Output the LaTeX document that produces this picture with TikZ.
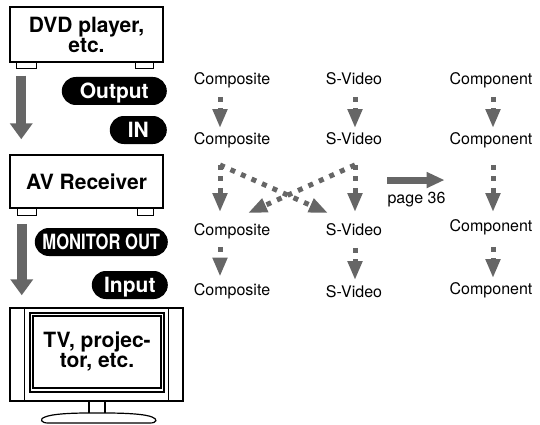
\documentclass[tikz,border=0pt]{standalone}
\usepackage{graphicx}
\usepackage{fontspec}
\setmainfont{TeX Gyre Heros}
\usetikzlibrary{arrows.meta,calc}
\definecolor{arrowgray}{RGB}{102,102,102}
\tikzset{
  unit/.style={draw,line width=1.5pt,fill=white,inner sep=0pt},
  boxtext/.style={font=\bfseries\fontsize{21}{20}\selectfont,align=center},
  foot/.style={draw,line width=1.3pt,fill=white},
  pill/.style={fill=black,text=white,rounded corners=14pt,minimum height=28pt,inner sep=0pt,
    text height=15pt,text depth=0pt,font=\bfseries\fontsize{21}{21}\selectfont,anchor=east},
  sig/.style={font=\fontsize{16}{19}\selectfont,inner sep=0pt,text height=11.5pt,text depth=0pt},
  bigarrow/.style={arrowgray,line width=10pt,-{Triangle[width=22pt,length=16pt]}},
  dotarrow/.style={arrowgray,line width=5pt,dash pattern=on 5pt off 6.5pt,-{Triangle[width=14pt,length=19pt]}},
  pagearrow/.style={arrowgray,line width=7pt,-{Triangle[width=15pt,length=18pt]}}
}
\begin{document}
\begin{tikzpicture}[x=1pt,y=-1pt]
\useasboundingbox (0,0) rectangle (540,425);
% units on the left
\node[unit,boxtext,minimum width=153pt,minimum height=55pt] (dvd) at (86.5,34.5) {DVD player,\\etc.};
\draw[foot] ($(dvd.south west)+(7,0)$) rectangle ++(20,6);
\draw[foot] ($(dvd.south east)+(-28,0)$) rectangle ++(18,6);
\node[unit,boxtext,minimum width=153pt,minimum height=53pt] (av) at (86.5,181.5) {AV Receiver};
\draw[foot] ($(av.south west)+(8,0)$) rectangle ++(19,7);
\draw[foot] ($(av.south east)+(-26,0)$) rectangle ++(16,7);
\node[draw,line width=1.5pt,minimum width=173pt,minimum height=93pt] (tv) at (96.5,354.5) {};
\draw[line width=1pt] ($(tv.north west)+(15,0)$) -- ($(tv.south west)+(15,0)$);
\draw[line width=1pt] ($(tv.north east)+(-15,0)$) -- ($(tv.south east)+(-15,0)$);
\node[draw,line width=1.2pt,minimum width=134pt,minimum height=79pt] (screen) at (97,352.5) {};
\node[draw,line width=1.2pt,minimum width=128pt,minimum height=72pt,boxtext] (scr) at (97,352) {TV, projec-\\tor, etc.};
\draw[foot,line width=1.2pt] ($(tv.south)+(-7.5,0)$) rectangle ++(16,12);
\draw[foot,line width=1.2pt] (89,413) .. controls (70,413) and (52,414) .. (45,417)
  .. controls (39,419) and (41,423) .. (48,423) -- (150,423)
  .. controls (157,423) and (158,419) .. (152,417)
  .. controls (145,414) and (125,413) .. (105,413) -- cycle;
\draw[bigarrow] ($(dvd.south west)+(12,13)$) -- ($(av.north west)+(12,-15)$);
\draw[bigarrow] ($(av.south west)+(12.5,15)$) -- ($(tv.north west)+(12.5,-12)$);
% jack labels
\node[pill,minimum width=105pt] (out) at (167,91) {Output};
\node[pill,minimum width=57pt] (in) at (167,130) {IN};
\node[pill,minimum width=133pt] (mon) at (168,242) {\scalebox{0.79}[1]{MONITOR OUT}};
\node[pill,minimum width=76pt] (inp) at (168,285) {Input};
% signals
\node[sig] (c1) at (232,79) {Composite};
\node[sig] (s1) at (354,79) {S-Video};
\node[sig] (p1) at (491,79) {Component};
\node[sig] (c2) at (232,139) {Composite};
\node[sig] (s2) at (354,139) {S-Video};
\node[sig] (p2) at (491,139) {Component};
\node[sig] (c3) at (232,230) {Composite};
\node[sig] (s3) at (354,230) {S-Video};
\node[sig] (p3) at (491,226) {Component};
\node[sig] (c4) at (232,289.5) {Composite};
\node[sig] (s4) at (354,292) {S-Video};
\node[sig] (p4) at (491,289) {Component};
\node[sig] (page) at (416.5,198) {page 36};
\draw[dotarrow] ($(c1.south)+(-12,12)$) -- ($(c2.north)+(-12,-5)$);
\draw[dotarrow] ($(s1.south)+(1,12)$) -- ($(s2.north)+(1,-5)$);
\draw[dotarrow] ($(p1.south)+(2,12)$) -- ($(p2.north)+(2,-5)$);
\draw[dotarrow] ($(c2.south)+(-12,20)$) -- ($(c3.north)+(-12,-12)$);
\draw[dotarrow] ($(s2.south)+(1,20)$) -- ($(s3.north)+(1,-12)$);
\draw[dotarrow] ($(p2.south)+(2,20)$) -- ($(p3.north)+(2,-8)$);
\draw[dotarrow] ($(c2.south)+(-12,20)$) -- ($(s3.north)+(-26,-11)$);
\draw[dotarrow] ($(s2.south)+(1,20)$) -- ($(c3.north)+(16,-11)$);
\draw[dotarrow] ($(c3.south)+(-12,11)$) -- ($(c4.north)+(-12,-7)$);
\draw[dotarrow] ($(s3.south)+(1,12)$) -- ($(s4.north)+(1,-6)$);
\draw[dotarrow] ($(p3.south)+(2,15)$) -- ($(p4.north)+(2,-5)$);
\draw[pagearrow] ($(page.north west)+(0,-12)$) -- ($(page.north east)+(-1,-12)$);
\end{tikzpicture}
\end{document}
